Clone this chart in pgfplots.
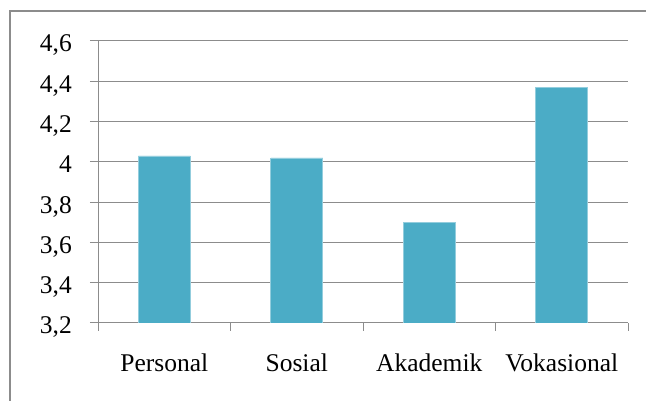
\documentclass[border=0pt]{standalone}
\usepackage{fontspec}
\setmainfont{Liberation Serif}
\usepackage{pgfplots}
\pgfplotsset{compat=1.18}
\definecolor{barcol}{HTML}{4BACC6}
\definecolor{gridc}{HTML}{8C8C8C}
\begin{document}
\begin{tikzpicture}[x=1pt,y=1pt]
\useasboundingbox (0,0) rectangle (646,401);
\draw[gridc, line width=2pt] (10,-5) -- (10,390) -- (651,390);
\begin{axis}[
  at={(98pt,78pt)}, anchor=south west,
  scale only axis, width=530pt, height=282pt,
  xmin=0, xmax=4, ymin=3.2, ymax=4.6,
  axis lines*=left,
  axis line style={draw=gridc, line width=1pt, -},
  ytick={3.2,3.4,3.6,3.8,4,4.2,4.4,4.6},
  xtick={0,1,2,3,4},
  xticklabels={,,,,},
  extra x ticks={0.5,1.5,2.5,3.5},
  extra x tick labels={Personal,Sosial,Akademik,Vokasional},
  extra x tick style={major tick length=0pt, xmajorgrids=false},
  tick align=outside,
  major tick length=8pt,
  tick style={draw=gridc, line width=1pt},
  ymajorgrids,
  grid style={draw=gridc, line width=1pt},
  ybar, bar width=52pt, bar shift=0pt,
  /pgf/number format/.cd, use comma, fixed, assume math mode=true,
  /pgfplots/.cd,
  ticklabel style={font=\fontsize{25.5}{30}\selectfont, inner sep=0pt},
  yticklabel style={anchor=base east, xshift=-18pt, yshift=-11pt},
  xticklabel style={anchor=base, yshift=-49pt},
]
\addplot[fill=barcol, draw=barcol!60!white, line width=0.6pt] coordinates {
  (0.5,4.03) (1.5,4.02) (2.5,3.70) (3.5,4.37)
};
\end{axis}
\end{tikzpicture}
\end{document}
